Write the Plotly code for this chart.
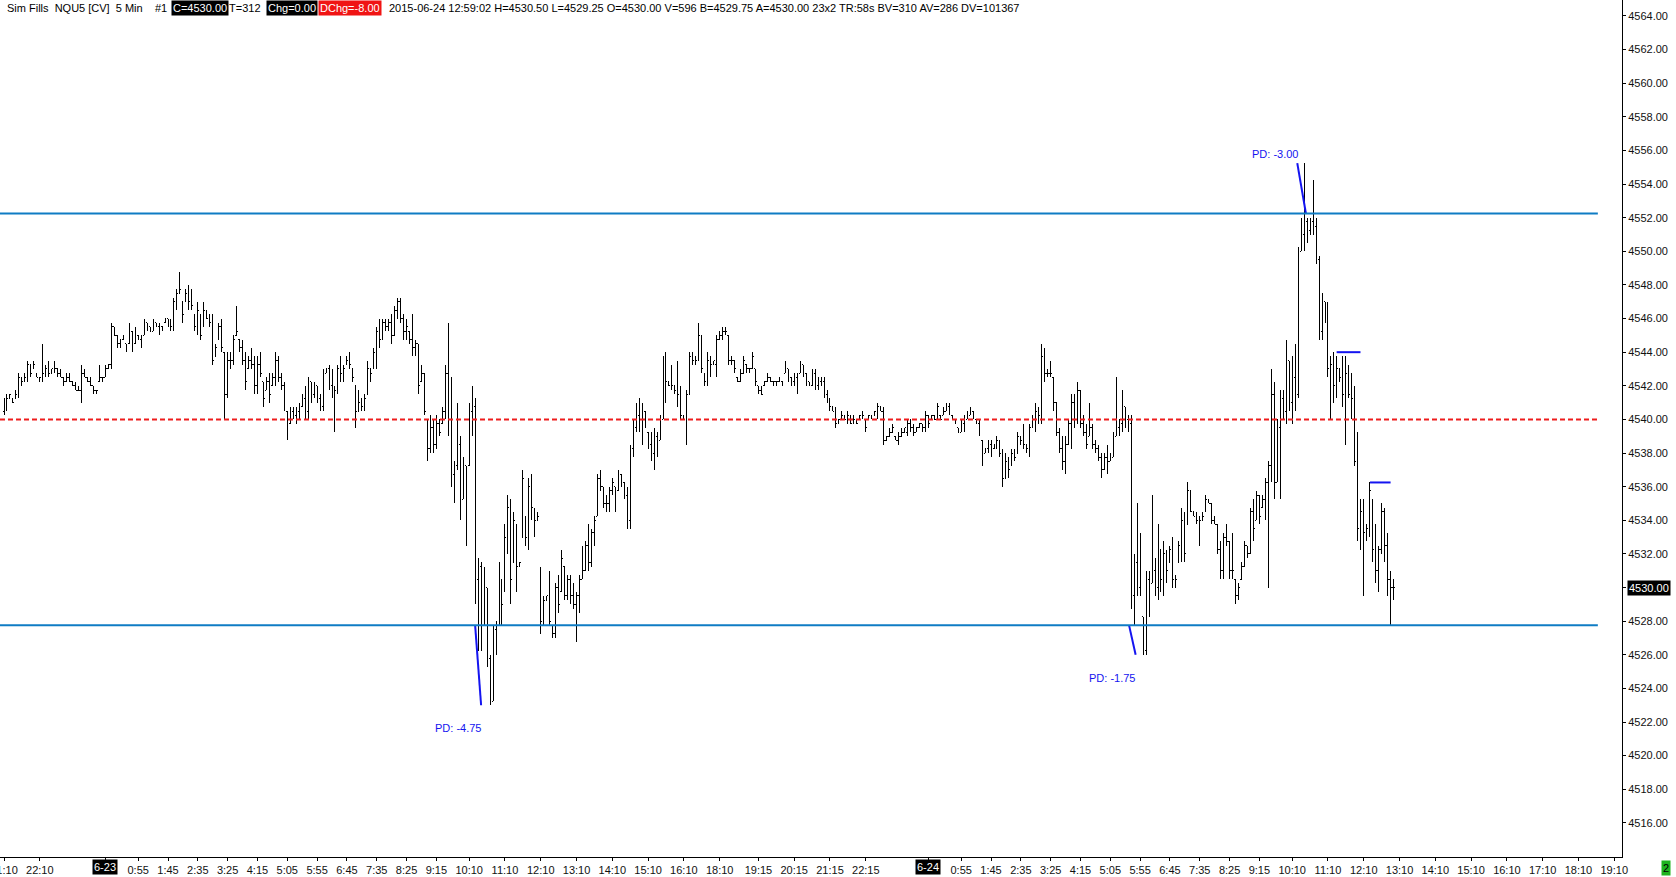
import datetime as dt
import plotly.graph_objects as go

# ---------------- data (5-minute NQU5 bars) ----------------
# 2015-06-22 evening, 21:10 .. 23:55
open_622 = [4540.5, 4541.0, 4541.25, 4541.25, 4541.25, 4541.5, 4542.5, 4542.25, 4542.5, 4543.25,
            4543.0, 4542.75, 4542.5, 4542.5, 4542.75, 4543.0, 4542.75, 4543.0, 4543.0, 4542.75,
            4542.5, 4542.25, 4542.5, 4542.25, 4542.0, 4541.75, 4541.75, 4542.75, 4542.5, 4542.25,
            4542.0, 4541.75, 4542.25, 4542.5]
high_622 = [4541.25, 4541.5, 4541.5, 4541.25, 4541.75, 4542.75, 4542.5, 4542.75, 4543.5, 4543.25,
            4543.5, 4542.75, 4542.5, 4544.5, 4543.25, 4543.5, 4543.0, 4543.5, 4543.0, 4543.0,
            4542.5, 4542.75, 4542.75, 4542.25, 4542.25, 4542.0, 4543.25, 4543.0, 4542.5, 4542.5,
            4542.0, 4541.75, 4543.25, 4542.5]
low_622 = [4540.25, 4540.5, 4541.25, 4541.0, 4541.25, 4541.25, 4542.0, 4542.25, 4542.25, 4542.5,
           4543.0, 4542.5, 4542.25, 4542.25, 4542.5, 4542.5, 4542.75, 4542.75, 4542.5, 4542.5,
           4542.0, 4542.25, 4542.25, 4542.0, 4541.75, 4541.75, 4541.0, 4542.5, 4542.25, 4542.0,
           4541.5, 4541.5, 4542.25, 4542.25]
close_622 = [4541.0, 4541.25, 4541.5, 4541.0, 4541.5, 4542.5, 4542.25, 4542.5, 4543.25, 4542.75,
             4543.25, 4542.5, 4542.5, 4542.75, 4543.0, 4542.75, 4543.0, 4543.0, 4542.75, 4542.5,
             4542.25, 4542.5, 4542.25, 4542.0, 4541.75, 4541.75, 4542.75, 4542.5, 4542.25, 4542.0,
             4541.75, 4541.75, 4542.5, 4542.5]

# 2015-06-23, 0:00 .. 17:00
open_623a = [4542.5, 4543.0, 4543.25, 4545.5, 4545.0, 4544.5, 4544.75, 4544.5, 4544.5, 4545.25,
             4544.5, 4545.0, 4544.75, 4545.0, 4545.75, 4545.5, 4545.25, 4545.75, 4545.5, 4545.5,
             4545.75, 4546.0, 4545.75, 4545.5, 4547.0, 4547.5, 4547.0, 4547.0, 4547.5, 4547.0,
             4546.25, 4545.5, 4546.25, 4545.5, 4546.5, 4546.0, 4545.75, 4543.75, 4544.75, 4545.5,
             4544.0, 4541.5, 4543.5, 4543.5, 4545.0, 4544.75, 4544.25, 4543.5, 4543.0, 4543.5,
             4543.25, 4542.0, 4543.25, 4542.25, 4541.75, 4542.25, 4542.0, 4542.5, 4543.5, 4542.5,
             4542.0, 4540.5, 4539.75, 4540.5, 4540.25, 4540.5, 4540.75, 4541.25, 4540.5, 4542.25,
             4541.5, 4542.0, 4541.25, 4540.75, 4542.75, 4543.0, 4542.0, 4541.5, 4541.75, 4543.0,
             4542.75, 4543.25, 4543.5, 4543.0, 4542.0, 4540.5, 4541.0, 4540.75, 4541.5, 4543.0,
             4543.0, 4544.0, 4545.25, 4544.75, 4545.75, 4545.5, 4545.75, 4545.0, 4546.5, 4547.0,
             4546.0, 4545.25, 4545.25, 4544.75, 4544.25, 4544.5, 4542.25, 4542.75, 4540.0, 4538.25,
             4539.5, 4538.5, 4539.75, 4539.75, 4540.5, 4542.75, 4540.0, 4536.75, 4537.25, 4538.5,
             4535.25, 4537.25, 4537.25, 4540.5, 4540.75, 4530.5, 4531.25, 4527.75, 4530.0, 4525.75,
             4523.25, 4527.5, 4527.75, 4530.5, 4529.75, 4533.0, 4534.75, 4531.5, 4533.75, 4531.25,
             4533.0, 4534.0, 4533.0, 4536.0, 4534.5, 4534.0, 4531.0, 4528.0, 4529.25, 4529.5,
             4527.75, 4527.25, 4530.0, 4529.75, 4531.25, 4529.5, 4530.5, 4529.5, 4529.0, 4529.5,
             4530.5, 4531.0, 4532.5, 4531.5, 4533.25, 4534.25, 4536.5, 4536.0, 4535.0, 4535.0,
             4535.75, 4536.0, 4535.75, 4536.75, 4536.25, 4535.5, 4534.0, 4538.25, 4539.5, 4540.25,
             4540.0, 4540.5, 4539.25, 4538.5, 4538.0, 4539.0, 4538.75, 4540.0, 4543.25, 4542.25,
             4542.0, 4542.0, 4541.75, 4541.5, 4540.25, 4540.0, 4541.5, 4543.75, 4543.5, 4543.5,
             4545.0, 4542.75, 4542.25, 4543.5, 4543.25]
high_623a = [4543.25, 4543.25, 4545.75, 4545.5, 4545.0, 4544.75, 4545.0, 4544.5, 4545.75, 4545.25,
             4545.5, 4545.0, 4545.0, 4546.0, 4545.75, 4545.5, 4546.0, 4545.75, 4545.75, 4545.5,
             4546.0, 4546.0, 4546.0, 4547.25, 4547.75, 4548.75, 4547.0, 4547.75, 4548.0, 4547.75,
             4546.25, 4547.0, 4546.25, 4547.0, 4546.5, 4546.25, 4546.25, 4544.5, 4545.75, 4546.0,
             4544.0, 4544.0, 4544.0, 4545.0, 4546.75, 4544.75, 4544.75, 4544.0, 4543.75, 4544.25,
             4543.75, 4543.75, 4544.0, 4542.25, 4542.5, 4542.75, 4542.75, 4544.0, 4543.75, 4542.75,
             4542.25, 4540.5, 4540.75, 4540.75, 4540.75, 4541.0, 4541.5, 4542.0, 4542.5, 4542.25,
             4542.25, 4542.0, 4541.5, 4543.0, 4543.0, 4543.25, 4543.0, 4542.0, 4543.25, 4543.75,
             4543.25, 4543.75, 4544.0, 4543.0, 4542.0, 4541.75, 4541.25, 4541.5, 4543.5, 4543.0,
             4544.25, 4545.5, 4546.0, 4546.0, 4546.0, 4546.0, 4546.25, 4546.75, 4547.25, 4547.25,
             4546.25, 4546.0, 4545.25, 4546.25, 4544.75, 4544.5, 4543.25, 4542.75, 4540.0, 4540.25,
             4540.0, 4540.25, 4540.0, 4540.75, 4543.25, 4545.75, 4542.5, 4537.5, 4541.0, 4539.0,
             4537.75, 4537.25, 4541.0, 4542.0, 4541.25, 4531.75, 4531.5, 4531.25, 4530.0, 4526.0,
             4527.75, 4528.0, 4531.5, 4530.5, 4533.75, 4535.5, 4535.25, 4534.5, 4533.75, 4531.5,
             4537.0, 4534.25, 4536.5, 4536.75, 4534.75, 4534.5, 4531.25, 4529.5, 4529.5, 4531.0,
             4527.75, 4530.25, 4530.75, 4532.25, 4531.25, 4530.75, 4530.75, 4530.25, 4529.75, 4530.75,
             4532.5, 4532.75, 4533.75, 4533.5, 4534.25, 4536.75, 4537.0, 4536.0, 4535.5, 4536.0,
             4536.5, 4536.0, 4537.0, 4536.75, 4536.25, 4536.0, 4538.5, 4540.0, 4541.0, 4541.25,
             4541.0, 4540.5, 4539.25, 4539.25, 4539.5, 4539.25, 4540.25, 4543.75, 4544.0, 4542.25,
             4543.25, 4542.0, 4543.5, 4542.0, 4540.25, 4541.75, 4544.0, 4544.0, 4543.75, 4545.75,
             4545.0, 4542.75, 4544.0, 4543.75, 4543.5]
low_623a = [4542.5, 4543.0, 4543.0, 4545.0, 4544.25, 4544.25, 4544.75, 4544.0, 4544.5, 4544.0,
            4544.5, 4544.75, 4544.25, 4545.0, 4545.25, 4545.25, 4545.25, 4545.5, 4545.0, 4545.25,
            4545.75, 4545.5, 4545.25, 4545.25, 4546.5, 4547.5, 4545.75, 4547.0, 4546.5, 4546.5,
            4545.25, 4545.0, 4544.75, 4545.5, 4546.0, 4545.5, 4543.25, 4543.75, 4544.75, 4544.0,
            4540.0, 4541.25, 4543.0, 4543.25, 4545.0, 4544.0, 4543.25, 4541.75, 4543.0, 4543.0,
            4541.5, 4541.5, 4542.5, 4540.75, 4541.75, 4541.0, 4542.0, 4542.0, 4542.25, 4541.75,
            4540.5, 4538.75, 4539.75, 4540.0, 4539.75, 4540.0, 4540.75, 4540.0, 4540.0, 4541.0,
            4541.25, 4541.0, 4540.5, 4540.5, 4542.75, 4541.75, 4541.25, 4539.25, 4541.5, 4542.25,
            4542.25, 4543.25, 4543.0, 4542.25, 4539.5, 4540.5, 4540.5, 4540.5, 4541.5, 4542.25,
            4543.0, 4543.0, 4544.25, 4544.75, 4545.25, 4545.25, 4544.5, 4545.0, 4546.0, 4545.75,
            4544.75, 4544.75, 4544.5, 4543.75, 4543.75, 4541.5, 4542.25, 4540.25, 4537.5, 4538.0,
            4538.0, 4538.25, 4539.0, 4539.75, 4540.0, 4539.0, 4536.0, 4535.0, 4537.0, 4534.0,
            4535.25, 4532.5, 4537.25, 4539.0, 4529.0, 4526.25, 4526.25, 4527.75, 4525.25, 4523.0,
            4523.25, 4526.0, 4527.75, 4527.75, 4529.75, 4532.0, 4529.0, 4531.5, 4529.75, 4531.25,
            4533.0, 4532.5, 4532.25, 4534.0, 4533.0, 4534.0, 4527.25, 4527.75, 4529.25, 4527.75,
            4527.0, 4527.0, 4528.5, 4529.75, 4529.25, 4529.25, 4529.0, 4528.75, 4526.75, 4528.5,
            4530.5, 4531.0, 4531.0, 4531.25, 4532.5, 4534.25, 4535.75, 4534.75, 4534.5, 4534.5,
            4535.5, 4534.5, 4535.75, 4536.0, 4535.25, 4533.5, 4533.5, 4537.75, 4539.25, 4539.25,
            4538.5, 4539.5, 4538.25, 4537.5, 4537.0, 4537.75, 4538.75, 4540.0, 4541.0, 4542.0,
            4541.75, 4541.5, 4540.75, 4540.0, 4540.0, 4538.5, 4541.5, 4543.25, 4543.25, 4543.5,
            4542.75, 4542.0, 4542.0, 4542.5, 4543.25]
close_623a = [4543.0, 4543.25, 4545.5, 4545.0, 4544.5, 4544.75, 4544.75, 4544.25, 4545.25, 4544.5,
              4545.0, 4544.75, 4544.5, 4545.75, 4545.5, 4545.25, 4545.75, 4545.5, 4545.5, 4545.5,
              4546.0, 4545.75, 4545.5, 4547.0, 4547.5, 4547.75, 4546.25, 4547.5, 4547.0, 4546.75,
              4545.5, 4546.5, 4545.0, 4546.5, 4546.0, 4545.75, 4543.5, 4544.25, 4545.5, 4544.25,
              4541.5, 4543.5, 4543.5, 4544.75, 4545.25, 4544.25, 4543.5, 4542.25, 4543.5, 4543.25,
              4542.0, 4543.25, 4542.75, 4541.25, 4542.25, 4541.5, 4542.5, 4543.5, 4542.5, 4542.0,
              4540.75, 4539.25, 4540.5, 4540.25, 4540.5, 4540.75, 4541.25, 4540.5, 4542.25, 4541.5,
              4542.0, 4541.25, 4540.75, 4542.75, 4543.0, 4542.0, 4541.5, 4541.75, 4543.0, 4542.75,
              4543.0, 4543.5, 4543.25, 4542.5, 4540.5, 4541.0, 4540.75, 4541.25, 4543.0, 4542.75,
              4544.0, 4545.25, 4544.75, 4545.75, 4545.5, 4545.75, 4545.0, 4546.5, 4547.0, 4546.0,
              4545.25, 4545.5, 4544.75, 4544.25, 4544.5, 4542.0, 4542.75, 4540.5, 4538.25, 4539.5,
              4538.5, 4539.75, 4539.25, 4540.5, 4542.75, 4540.0, 4536.75, 4537.25, 4538.5, 4535.0,
              4537.25, 4533.5, 4540.5, 4540.75, 4530.5, 4531.25, 4527.5, 4530.5, 4525.75, 4523.25,
              4527.5, 4527.75, 4530.75, 4529.0, 4533.0, 4534.75, 4530.5, 4534.0, 4531.25, 4531.5,
              4536.5, 4533.0, 4536.0, 4534.75, 4534.0, 4534.25, 4528.0, 4529.25, 4529.5, 4528.0,
              4527.25, 4530.0, 4529.0, 4531.75, 4529.5, 4530.5, 4529.5, 4529.0, 4529.5, 4530.5,
              4531.0, 4532.5, 4531.5, 4533.25, 4534.0, 4536.5, 4536.0, 4535.0, 4535.0, 4535.75,
              4536.25, 4535.0, 4536.75, 4536.25, 4535.5, 4534.0, 4538.25, 4539.5, 4540.25, 4540.0,
              4540.75, 4539.75, 4538.5, 4538.0, 4539.0, 4538.25, 4540.0, 4543.25, 4542.25, 4542.0,
              4542.0, 4541.75, 4541.5, 4540.25, 4540.0, 4541.5, 4543.75, 4543.5, 4543.5, 4545.0,
              4543.0, 4542.25, 4543.5, 4543.25, 4543.5]

# 2015-06-23 evening session, 18:05 .. 23:55
open_623b = [4543.25, 4544.75, 4545.0, 4545.25, 4545.0, 4543.5, 4543.5, 4542.5, 4542.25, 4542.75,
             4543.25, 4543.0, 4543.0, 4543.0, 4542.0, 4541.75, 4542.0, 4542.25, 4542.5, 4542.25,
             4542.25, 4542.25, 4542.25, 4542.75, 4543.0, 4542.5, 4542.25, 4542.5, 4542.75, 4543.25,
             4542.75, 4542.25, 4542.0, 4542.75, 4542.0, 4542.25, 4542.25, 4541.5, 4541.25, 4540.75,
             4540.5, 4539.75, 4540.0, 4540.25, 4540.0, 4540.25, 4539.75, 4540.0, 4540.0, 4540.25,
             4540.0, 4540.0, 4540.25, 4540.25, 4540.5, 4540.75, 4540.5, 4538.75, 4539.0, 4539.25,
             4539.0, 4538.75, 4539.0, 4539.25, 4539.25, 4539.75, 4539.5, 4539.25, 4539.5, 4539.75,
             4539.5]
high_623b = [4545.0, 4545.25, 4545.5, 4545.5, 4545.0, 4543.75, 4543.5, 4542.5, 4543.0, 4543.75,
             4543.25, 4543.0, 4544.0, 4543.0, 4542.0, 4542.0, 4542.25, 4542.75, 4542.5, 4542.25,
             4542.25, 4542.5, 4542.25, 4543.5, 4543.0, 4542.5, 4542.75, 4542.75, 4543.5, 4543.25,
             4542.75, 4542.25, 4543.0, 4543.0, 4542.5, 4542.5, 4542.5, 4541.75, 4541.25, 4540.75,
             4540.75, 4540.0, 4540.5, 4540.25, 4540.5, 4540.25, 4540.25, 4540.0, 4540.25, 4540.5,
             4540.0, 4540.25, 4540.25, 4540.5, 4541.0, 4540.75, 4540.75, 4539.0, 4539.5, 4539.75,
             4539.0, 4539.25, 4539.5, 4539.5, 4540.0, 4540.0, 4539.75, 4539.5, 4539.75, 4539.75,
             4540.5]
low_623b = [4542.5, 4544.75, 4544.75, 4545.0, 4543.25, 4543.25, 4542.75, 4542.25, 4542.25, 4542.75,
            4542.75, 4542.75, 4543.0, 4542.0, 4541.5, 4541.5, 4542.0, 4542.25, 4542.25, 4542.0,
            4542.0, 4542.25, 4542.0, 4542.75, 4542.25, 4542.0, 4542.0, 4541.5, 4542.75, 4542.5,
            4542.0, 4542.0, 4542.0, 4541.75, 4541.75, 4542.0, 4541.25, 4541.0, 4540.5, 4540.5,
            4539.5, 4539.75, 4540.0, 4540.0, 4539.75, 4539.75, 4539.75, 4539.75, 4540.0, 4540.0,
            4539.25, 4540.0, 4540.0, 4540.25, 4540.0, 4540.5, 4538.5, 4538.75, 4539.0, 4539.25,
            4538.75, 4538.5, 4539.0, 4539.25, 4539.0, 4539.25, 4539.0, 4539.25, 4539.5, 4539.25,
            4539.25]
close_623b = [4544.75, 4545.0, 4545.25, 4545.25, 4543.5, 4543.5, 4543.0, 4542.25, 4542.75, 4543.5,
              4543.0, 4543.0, 4543.75, 4542.25, 4541.75, 4541.5, 4542.25, 4542.5, 4542.25, 4542.25,
              4542.25, 4542.25, 4542.25, 4543.25, 4542.5, 4542.25, 4542.5, 4542.5, 4543.25, 4542.75,
              4542.25, 4542.0, 4542.75, 4542.0, 4542.25, 4542.25, 4541.5, 4541.25, 4540.75, 4540.5,
              4539.75, 4540.0, 4540.25, 4540.0, 4540.25, 4539.75, 4540.0, 4539.75, 4540.25, 4540.25,
              4539.5, 4540.25, 4540.0, 4540.5, 4540.75, 4540.5, 4538.75, 4539.0, 4539.25, 4539.5,
              4538.75, 4539.0, 4539.25, 4539.5, 4539.75, 4539.5, 4539.25, 4539.5, 4539.75, 4539.5,
              4540.25]

# 2015-06-24, 0:00 .. 13:00 (last bar in progress)
open_624 = [4540.25, 4540.0, 4540.25, 4540.0, 4540.25, 4540.25, 4540.5, 4540.75, 4540.25, 4540.0,
            4539.5, 4539.25, 4539.75, 4540.0, 4540.25, 4540.5, 4540.0, 4539.75, 4538.75, 4538.0,
            4538.25, 4538.5, 4538.25, 4538.5, 4538.75, 4538.0, 4536.5, 4537.5, 4537.25, 4538.0,
            4538.0, 4539.0, 4538.75, 4538.5, 4538.25, 4539.5, 4540.0, 4540.5, 4540.25, 4543.75,
            4542.75, 4542.75, 4542.5, 4541.0, 4539.25, 4538.25, 4537.5, 4538.5, 4539.75, 4541.0,
            4540.0, 4541.75, 4539.75, 4539.25, 4539.0, 4539.5, 4538.5, 4538.25, 4537.75, 4537.0,
            4537.75, 4537.5, 4537.75, 4539.0, 4539.5, 4539.75, 4540.75, 4540.0, 4539.75, 4529.5,
            4531.5, 4530.0, 4528.25, 4526.25, 4530.5, 4530.25, 4531.0, 4530.0, 4532.25, 4530.5,
            4532.0, 4531.5, 4532.25, 4530.5, 4531.5, 4532.5, 4534.0, 4533.75, 4535.75, 4534.5,
            4534.25, 4534.0, 4534.0, 4534.5, 4535.25, 4535.0, 4534.0, 4533.75, 4532.25, 4531.0,
            4533.0, 4532.75, 4531.0, 4530.5, 4529.5, 4530.5, 4531.25, 4532.5, 4532.0, 4534.5,
            4534.0, 4535.5, 4534.75, 4535.25, 4536.25, 4537.25, 4541.5, 4536.25, 4539.5, 4541.25,
            4540.5, 4543.5, 4541.0, 4542.5, 4541.5, 4550.0, 4551.0, 4551.75, 4551.25, 4551.75,
            4551.5, 4549.5, 4545.25, 4547.0, 4546.25, 4543.0, 4543.25, 4542.0, 4543.0, 4542.5,
            4541.5, 4542.75, 4541.5, 4541.25, 4537.5, 4533.5, 4534.5, 4533.25, 4533.5, 4535.25,
            4532.25, 4531.0, 4532.25, 4534.5, 4532.5, 4530.5, 4530.0]
high_624 = [4540.25, 4540.25, 4540.25, 4541.0, 4540.25, 4540.75, 4541.0, 4541.0, 4540.25, 4540.0,
            4539.5, 4540.0, 4540.25, 4540.5, 4540.75, 4540.5, 4540.0, 4540.0, 4538.75, 4538.25,
            4538.75, 4538.75, 4538.5, 4539.0, 4538.75, 4538.25, 4538.0, 4537.75, 4538.25, 4538.25,
            4539.25, 4539.0, 4539.75, 4538.5, 4539.75, 4540.25, 4541.0, 4540.75, 4544.5, 4544.25,
            4543.0, 4543.5, 4542.5, 4541.0, 4539.5, 4539.0, 4539.0, 4540.0, 4541.5, 4541.5,
            4542.25, 4541.75, 4540.25, 4539.75, 4541.0, 4539.75, 4538.75, 4538.5, 4538.0, 4538.0,
            4538.5, 4538.0, 4539.25, 4542.5, 4540.0, 4541.75, 4540.75, 4540.25, 4540.25, 4532.0,
            4535.0, 4533.25, 4528.25, 4531.0, 4531.0, 4535.5, 4531.75, 4533.75, 4532.25, 4532.75,
            4532.25, 4532.5, 4533.0, 4530.75, 4532.75, 4534.75, 4534.5, 4536.25, 4535.75, 4534.5,
            4534.5, 4534.25, 4534.5, 4535.5, 4535.25, 4535.0, 4534.25, 4533.75, 4532.75, 4533.25,
            4533.75, 4532.75, 4533.25, 4530.5, 4530.25, 4531.5, 4532.75, 4532.5, 4534.75, 4535.25,
            4535.75, 4535.5, 4535.5, 4536.5, 4537.5, 4543.0, 4542.25, 4540.0, 4541.75, 4541.75,
            4544.75, 4543.5, 4543.75, 4544.5, 4550.25, 4552.0, 4555.25, 4552.0, 4552.0, 4554.25,
            4552.0, 4549.75, 4547.5, 4547.0, 4547.0, 4543.75, 4544.0, 4543.75, 4543.0, 4543.75,
            4543.75, 4543.25, 4542.75, 4542.0, 4539.25, 4535.25, 4535.25, 4533.75, 4536.25, 4535.25,
            4533.75, 4532.5, 4535.0, 4534.75, 4533.25, 4531.0, 4530.5]
low_624 = [4539.5, 4540.0, 4540.0, 4540.0, 4540.0, 4540.25, 4540.5, 4540.25, 4540.0, 4539.75,
           4539.25, 4539.25, 4539.25, 4540.0, 4540.25, 4540.0, 4539.75, 4539.0, 4537.25, 4538.0,
           4538.0, 4537.75, 4538.25, 4538.25, 4537.75, 4536.0, 4536.5, 4536.5, 4537.25, 4537.5,
           4538.0, 4538.5, 4538.25, 4538.0, 4537.75, 4539.5, 4539.25, 4539.75, 4539.75, 4542.25,
           4542.5, 4542.5, 4540.5, 4539.0, 4538.0, 4537.0, 4536.75, 4538.5, 4538.25, 4539.5,
           4539.75, 4539.5, 4539.0, 4538.25, 4539.0, 4538.25, 4538.0, 4537.5, 4536.5, 4537.0,
           4536.75, 4537.5, 4537.75, 4539.0, 4539.0, 4539.25, 4539.5, 4539.25, 4528.75, 4527.75,
           4529.5, 4529.5, 4526.0, 4526.0, 4528.25, 4530.25, 4529.5, 4529.25, 4529.75, 4529.5,
           4530.25, 4531.5, 4530.0, 4530.0, 4531.5, 4531.5, 4531.5, 4533.75, 4534.5, 4534.25,
           4533.75, 4532.5, 4534.0, 4534.5, 4535.0, 4533.75, 4533.75, 4532.0, 4530.5, 4530.5,
           4532.5, 4530.5, 4530.5, 4529.0, 4529.25, 4530.5, 4531.25, 4531.75, 4532.0, 4532.75,
           4534.0, 4533.75, 4534.75, 4534.0, 4530.0, 4536.25, 4535.25, 4536.25, 4535.25, 4540.0,
           4539.75, 4540.5, 4539.75, 4540.5, 4541.25, 4550.0, 4550.0, 4550.5, 4551.0, 4551.0,
           4549.25, 4544.75, 4544.75, 4545.75, 4542.5, 4540.0, 4541.0, 4541.25, 4542.25, 4540.75,
           4538.5, 4541.25, 4540.0, 4537.25, 4532.75, 4532.25, 4529.5, 4532.75, 4533.0, 4531.5,
           4530.25, 4529.75, 4532.0, 4531.5, 4529.5, 4527.75, 4529.25]
close_624 = [4539.75, 4540.25, 4540.0, 4540.75, 4540.0, 4540.5, 4540.75, 4540.5, 4540.0, 4539.75,
             4539.25, 4539.75, 4540.0, 4540.25, 4540.5, 4540.25, 4539.75, 4539.25, 4538.0, 4538.25,
             4538.5, 4538.0, 4538.5, 4538.75, 4538.0, 4536.5, 4537.5, 4537.0, 4538.0, 4537.75,
             4539.0, 4538.75, 4538.5, 4538.25, 4539.5, 4540.0, 4540.5, 4540.25, 4543.75, 4542.75,
             4542.75, 4542.75, 4541.0, 4539.25, 4538.25, 4537.5, 4538.5, 4539.75, 4541.0, 4540.0,
             4541.75, 4539.75, 4539.25, 4538.5, 4539.5, 4538.5, 4538.25, 4537.75, 4537.0, 4537.75,
             4537.5, 4537.75, 4539.0, 4539.5, 4539.75, 4540.75, 4540.0, 4539.75, 4529.5, 4531.5,
             4530.0, 4529.75, 4526.25, 4530.5, 4529.0, 4531.0, 4530.0, 4533.0, 4530.5, 4532.0,
             4531.0, 4532.25, 4530.5, 4530.5, 4532.5, 4534.0, 4532.0, 4535.75, 4534.5, 4534.25,
             4534.0, 4534.0, 4534.25, 4535.25, 4535.0, 4534.0, 4533.75, 4532.25, 4531.0, 4533.0,
             4532.75, 4531.0, 4531.0, 4529.5, 4530.0, 4531.25, 4532.5, 4532.0, 4534.5, 4533.5,
             4535.5, 4534.25, 4535.25, 4536.25, 4537.25, 4541.5, 4536.25, 4539.5, 4541.25, 4540.5,
             4543.75, 4541.0, 4542.5, 4541.5, 4549.25, 4551.0, 4551.75, 4551.25, 4551.75, 4551.5,
             4549.5, 4545.25, 4547.0, 4546.25, 4543.0, 4543.25, 4542.0, 4543.0, 4542.5, 4541.5,
             4542.75, 4541.5, 4541.25, 4537.5, 4533.5, 4534.5, 4533.25, 4533.5, 4535.75, 4532.25,
             4531.0, 4532.25, 4534.5, 4532.5, 4530.5, 4530.0, 4530.0]

# horizontal levels drawn on the chart
mid_level = 4540.00
upper_level = 4552.25
lower_level = 4527.75
level_end_bar = 534.5

# penetration-depth (PD) marks: level, side, anchor bars of the slanted tool line
pd_levels = [4527.75, 4527.75, 4552.25]
pd_sides = ["low", "low", "high"]
pd_start_bar = [158.0, 377.3, 433.7]
pd_end_bar = [160.0, 379.5, 436.6]

# short blue marker segments
seg_levels = [4544.00, 4536.25]
seg_start_bar = [446.9, 458.1]
seg_end_bar = [454.9, 465.0]

# time axis
bar_start = dt.datetime(2015, 6, 22, 21, 10)
session_close = dt.datetime(2015, 6, 23, 17, 0)
session_reopen = dt.datetime(2015, 6, 23, 18, 5)
axis_end_time = dt.datetime(2015, 6, 24, 19, 40)

ticks_622 = ["21:10", "22:10"]
ticks_623 = ["0:55", "1:45", "2:35", "3:25", "4:15", "5:05", "5:55", "6:45", "7:35", "8:25",
             "9:15", "10:10", "11:10", "12:10", "13:10", "14:10", "15:10", "16:10", "18:10",
             "19:15", "20:15", "21:15", "22:15"]
ticks_624 = ["0:55", "1:45", "2:35", "3:25", "4:15", "5:05", "5:55", "6:45", "7:35", "8:25",
             "9:15", "10:10", "11:10", "12:10", "13:10", "14:10", "15:10", "16:10", "17:10",
             "18:10", "19:10"]
date_marks = ["6-23", "6-24"]

price_ticks = list(range(4516, 4566, 2))

# ---------------- build ----------------
open_ = open_622 + open_623a + open_623b + open_624
high_ = high_622 + high_623a + high_623b + high_624
low_ = low_622 + low_623a + low_623b + low_624
close_ = close_622 + close_623a + close_623b + close_624
bars = list(range(len(close_)))

times = []
t = bar_start
while t <= axis_end_time:
    times.append(t)
    t = session_reopen if t == session_close else t + dt.timedelta(minutes=5)


def bar_of(day, hhmm):
    h, m = (int(v) for v in hhmm.split(":"))
    return times.index(dt.datetime(2015, 6, day, h, m))


tickvals, ticktext = [], []
for day, labels in ((22, ticks_622), (23, ticks_623), (24, ticks_624)):
    for lab in labels:
        tickvals.append(bar_of(day, lab))
        ticktext.append(lab)
for day in (23, 24):
    tickvals.append(bar_of(day, "0:00"))
    ticktext.append(" ")

X_MIN, X_MAX = -1.34, 542.6
Y_MIN, Y_MAX = 4513.97, 4564.95
PLOT_W = 1622.0

FONT = "Liberation Sans, Arial, sans-serif"
BLUE_LVL = "#0f7cc4"
BLUE_PD = "#1414f0"

fig = go.Figure()
fig.add_trace(go.Ohlc(
    x=bars, open=open_, high=high_, low=low_, close=close_,
    increasing=dict(line=dict(color="black", width=1)),
    decreasing=dict(line=dict(color="black", width=1)),
    tickwidth=0.4, hoverinfo="skip", showlegend=False))

shapes = [
    dict(type="line", xref="x", yref="y", x0=X_MIN, x1=level_end_bar, y0=mid_level, y1=mid_level,
         line=dict(color="#ee1c1c", width=2, dash="5px,3px")),
    dict(type="line", xref="x", yref="y", x0=X_MIN, x1=level_end_bar, y0=upper_level, y1=upper_level,
         line=dict(color=BLUE_LVL, width=2)),
    dict(type="line", xref="x", yref="y", x0=X_MIN, x1=level_end_bar, y0=lower_level, y1=lower_level,
         line=dict(color=BLUE_LVL, width=2)),
]
for lvl, s, e in zip(seg_levels, seg_start_bar, seg_end_bar):
    shapes.append(dict(type="line", xref="x", yref="y", x0=s, x1=e, y0=lvl, y1=lvl,
                       line=dict(color=BLUE_PD, width=2)))

annotations = []
for lvl, side, s, e in zip(pd_levels, pd_sides, pd_start_bar, pd_end_bar):
    i0 = int(s)
    if side == "low":
        ext = min(low_[i0:i0 + 12])
        xs, ys = [s, e], [lvl, ext]
        depth = ext - lvl
        ysh, xoff = -23, 2.5
    else:
        ext = max(high_[i0:i0 + 12])
        xs, ys = [s, e], [ext, lvl]
        depth = lvl - ext
        ysh, xoff = 9, 1.0
    fig.add_trace(go.Scatter(x=xs, y=ys, mode="lines", line=dict(color=BLUE_PD, width=2),
                             hoverinfo="skip", showlegend=False))
    annotations.append(dict(x=s + xoff, y=ext, xref="x", yref="y", text=f"PD: {depth:.2f}",
                            showarrow=False, xanchor="right", yanchor="middle", yshift=ysh,
                            font=dict(family=FONT, size=11, color=BLUE_PD)))

# date markers on the time axis
for day, lab in zip((23, 24), date_marks):
    annotations.append(dict(x=bar_of(day, "0:00"), y=0, xref="x", yref="paper", text=lab,
                            showarrow=False, xanchor="center", yanchor="top", yshift=-2,
                            bgcolor="black", borderpad=1,
                            font=dict(family=FONT, size=11, color="white")))

# current price marker on the price axis
annotations.append(dict(x=1, y=close_[-1], xref="paper", yref="y", text=f"{close_[-1]:.2f}",
                        showarrow=False, xanchor="left", yanchor="middle", xshift=5,
                        bgcolor="black", borderpad=1,
                        font=dict(family=FONT, size=11, color="white")))

# green status box at bottom right
annotations.append(dict(x=1666 / PLOT_W, y=0, xref="paper", yref="paper", text="2",
                        showarrow=False, xanchor="center", yanchor="top", yshift=-3,
                        bgcolor="#1eb41e", borderpad=1,
                        font=dict(family=FONT, size=11, color="black")))

# header line
hdr = [
    ("Sim Fills&nbsp; NQU5 [CV]&nbsp; 5 Min&nbsp;&nbsp;&nbsp; #1", 5, None, "black"),
    (f"C={close_[-1]:.2f}", 171, "black", "white"),
    ("T=312", 227, None, "black"),
    ("Chg=0.00", 266, "black", "white"),
    ("DChg=-8.00", 318, "#f01414", "white"),
    (f"2015-06-24 12:59:02 H={high_[-1]:.2f} L={low_[-1]:.2f} O={open_[-1]:.2f} V=596 "
     f"B=4529.75 A=4530.00 23x2 TR:58s BV=310 AV=286 DV=101367", 387, None, "black"),
]
for text, px, bg, fc in hdr:
    a = dict(x=px / PLOT_W, y=1, xref="paper", yref="paper", text=text, showarrow=False,
             xanchor="left", yanchor="top", borderpad=1,
             font=dict(family=FONT, size=11, color=fc))
    if bg:
        a["bgcolor"] = bg
    annotations.append(a)

fig.update_layout(
    width=1676, height=877,
    margin=dict(l=0, r=54, t=0, b=20, autoexpand=False),
    paper_bgcolor="white", plot_bgcolor="white",
    showlegend=False, hovermode=False,
    font=dict(family=FONT, size=11, color="#111111"),
    shapes=shapes, annotations=annotations,
    xaxis=dict(range=[X_MIN, X_MAX], showgrid=False, zeroline=False, showline=True,
               linecolor="black", linewidth=1, ticks="outside", ticklen=3, tickcolor="black",
               tickvals=tickvals, ticktext=ticktext, tickfont=dict(family=FONT, size=11),
               ticklabeloverflow="allow", automargin=False,
               rangeslider=dict(visible=False), fixedrange=True),
    yaxis=dict(side="right", range=[Y_MIN, Y_MAX], showgrid=False, zeroline=False,
               showline=True, linecolor="black", linewidth=1, ticks="outside", ticklen=3,
               tickcolor="black", tickvals=price_ticks,
               ticktext=[f"{v:.2f}" for v in price_ticks], automargin=False,
               tickfont=dict(family=FONT, size=11), fixedrange=True),
)

post = (
    "document.body.style.margin='0';document.body.style.padding='0';"
    "document.querySelectorAll('.ohlc path, .ohlc').forEach(function(p){"
    "p.style.shapeRendering='crispEdges';});"
)
fig.write_html("out.html", config={"displayModeBar": False}, post_script=post)
